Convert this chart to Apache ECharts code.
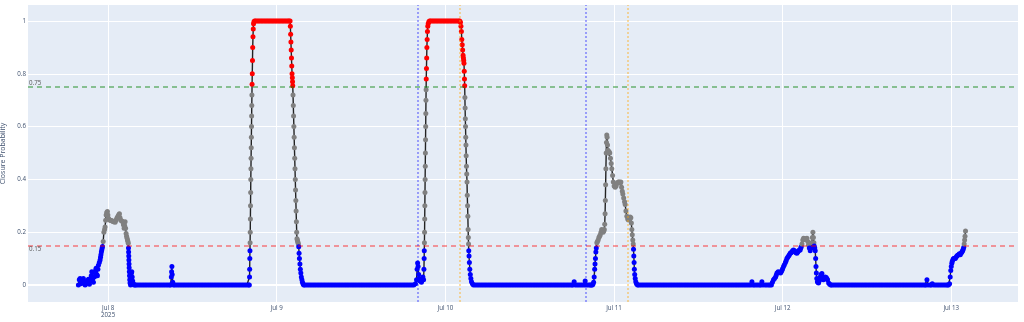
<!DOCTYPE html>
<html>
<head>
<meta charset="utf-8">
<script src="https://cdn.jsdelivr.net/npm/echarts@6/dist/echarts.min.js"></script>
<style>
  html, body { margin: 0; padding: 0; background: #ffffff; }
  #chart { width: 1024px; height: 322px; }
</style>
</head>
<body>
<div id="chart"></div>
<script>
// x values are hours since 2025-07-07 00:00
const dayTicks = [24, 48, 72, 96, 120, 144];
const dayLabels = ['Jul 8\n2025', 'Jul 9', 'Jul 10', 'Jul 11', 'Jul 12', 'Jul 13'];
const probTicks = [0, 0.2, 0.4, 0.6, 0.8, 1];
const closeThreshold = 0.75;
const openThreshold = 0.15;
const blueMarkers = [68, 92];    // Jul 9 20:00, Jul 10 20:00
const orangeMarkers = [74, 98];  // Jul 10 02:00, Jul 11 02:00

const bumpJul7 = [[19.77,0],[19.9,0.02],[20.01,0.025],[20.13,0.005],[20.26,0.01],[20.37,0.02],[20.48,0.025],[20.6,0.01],[20.73,0],[20.85,0.005],[21.0,0.015],[21.1,0.01],[21.2,0.022],[21.34,0.003],[21.5,0.02],[21.6,0.035],[21.68,0.05],[21.8,0.025],[21.91,0.01],[22.05,0.03],[22.15,0.045],[22.22,0.055],[22.29,0.063],[22.4,0.04],[22.48,0.035],[22.55,0.06],[22.62,0.075],[22.75,0.085],[22.86,0.095],[22.92,0.105],[22.98,0.115],[23.04,0.125],[23.1,0.133],[23.15,0.14],[23.2,0.146],[23.3,0.165],[23.4,0.2],[23.5,0.21],[23.57,0.22],[23.65,0.245],[23.72,0.265],[23.8,0.275],[23.9,0.278],[23.97,0.265],[24.04,0.253],[24.16,0.248],[24.28,0.245],[24.4,0.244],[24.5,0.243],[24.62,0.242],[24.75,0.24],[24.88,0.24],[25.0,0.238],[25.12,0.245],[25.24,0.253],[25.35,0.258],[25.45,0.262],[25.53,0.266],[25.61,0.27],[25.7,0.255],[25.81,0.245],[25.95,0.242],[26.09,0.24],[26.18,0.228],[26.28,0.215],[26.35,0.225],[26.42,0.24],[26.49,0.215],[26.56,0.195],[26.63,0.185],[26.7,0.177],[26.76,0.17],[26.82,0.165],[26.87,0.158],[26.9,0.14],[26.92,0.125],[26.94,0.11],[26.96,0.095],[26.98,0.08],[27.0,0.065],[27.02,0.05],[27.05,0.035],[27.08,0.02],[27.12,0.008],[27.2,0],[27.28,0.02],[27.33,0.045],[27.37,0.05],[27.43,0.03],[27.5,0.015],[27.6,0.005],[27.7,0],[27.85,0]];

const quietJul8 = [[28,0],[28.25,0],[28.5,0],[28.75,0],[29,0],[29.25,0],[29.5,0],[29.75,0],[30,0],[30.25,0],[30.5,0],[30.75,0],[31,0],[31.25,0],[31.5,0],[31.75,0],[32,0],[32.25,0],[32.5,0],[32.75,0],[32.9,0],[33.0,0.03],[33.04,0.05],[33.08,0.07],[33.12,0.04],[33.2,0.01],[33.3,0],[33.5,0],[33.75,0],[34,0],[34.25,0],[34.5,0],[34.75,0],[35,0],[35.25,0],[35.5,0],[35.75,0],[36,0],[36.25,0],[36.5,0],[36.75,0],[37,0],[37.25,0],[37.5,0],[37.75,0],[38,0],[38.25,0],[38.5,0],[38.75,0],[39,0],[39.25,0],[39.5,0],[39.75,0],[40,0],[40.25,0],[40.5,0],[40.75,0],[41,0],[41.25,0],[41.5,0],[41.75,0],[42,0],[42.25,0],[42.5,0],[42.75,0],[43,0],[43.25,0],[43.5,0],[43.75,0],[44,0]];

const peakJul8Night = [[44.1,0],[44.13,0.03],[44.15,0.06],[44.17,0.1],[44.19,0.13],[44.21,0.16],[44.23,0.2],[44.25,0.25],[44.27,0.3],[44.29,0.35],[44.31,0.4],[44.33,0.44],[44.35,0.48],[44.37,0.52],[44.39,0.56],[44.41,0.6],[44.43,0.64],[44.45,0.68],[44.47,0.72],[44.49,0.76],[44.52,0.8],[44.55,0.85],[44.58,0.9],[44.62,0.94],[44.66,0.97],[44.7,0.99],[44.76,0.997],[44.85,1],[45.0,1],[45.2,1],[45.4,1],[45.6,1],[45.8,1],[46.0,1],[46.2,1],[46.4,1],[46.6,1],[46.8,1],[47.0,1],[47.2,1],[47.4,1],[47.6,1],[47.8,1],[48.0,1],[48.2,1],[48.4,1],[48.6,1],[48.8,1],[49.0,1],[49.2,1],[49.4,1],[49.6,1],[49.75,1],[49.9,1],[49.94,0.98],[49.98,0.95],[50.02,0.92],[50.06,0.89],[50.1,0.86],[50.14,0.83],[50.18,0.8],[50.22,0.785],[50.25,0.77],[50.28,0.755],[50.32,0.72],[50.36,0.68],[50.4,0.64],[50.44,0.6],[50.48,0.56],[50.52,0.52],[50.56,0.48],[50.6,0.44],[50.64,0.4],[50.68,0.36],[50.72,0.32],[50.76,0.28],[50.8,0.24],[50.84,0.2],[50.88,0.175],[50.93,0.17],[50.98,0.165],[51.03,0.16],[51.08,0.155],[51.13,0.145],[51.18,0.12],[51.23,0.1],[51.3,0.08],[51.36,0.06],[51.43,0.045],[51.5,0.03],[51.58,0.02],[51.66,0.01],[51.75,0.004],[51.85,0]];

const quietJul9 = [[52,0],[52.25,0],[52.5,0],[52.75,0],[53,0],[53.25,0],[53.5,0],[53.75,0],[54,0],[54.25,0],[54.5,0],[54.75,0],[55,0],[55.25,0],[55.5,0],[55.75,0],[56,0],[56.25,0],[56.5,0],[56.75,0],[57,0],[57.25,0],[57.5,0],[57.75,0],[58,0],[58.25,0],[58.5,0],[58.75,0],[59,0],[59.25,0],[59.5,0],[59.75,0],[60,0],[60.25,0],[60.5,0],[60.75,0],[61,0],[61.25,0],[61.5,0],[61.75,0],[62,0],[62.25,0],[62.5,0],[62.75,0],[63,0],[63.25,0],[63.5,0],[63.75,0],[64,0],[64.25,0],[64.5,0],[64.75,0],[65,0],[65.25,0],[65.5,0],[65.75,0],[66,0],[66.25,0],[66.5,0],[66.75,0],[67,0],[67.25,0],[67.5,0]];

const peakJul9Night = [[67.75,0.005],[67.9,0.02],[67.98,0.06],[68.05,0.083],[68.12,0.07],[68.2,0.04],[68.3,0.025],[68.4,0.015],[68.5,0.02],[68.6,0.01],[68.7,0.02],[68.8,0.03],[68.9,0.02],[68.95,0.06],[68.98,0.1],[69.0,0.13],[69.02,0.16],[69.04,0.2],[69.06,0.25],[69.08,0.3],[69.1,0.35],[69.12,0.4],[69.14,0.45],[69.16,0.5],[69.18,0.55],[69.2,0.6],[69.22,0.65],[69.24,0.7],[69.26,0.74],[69.28,0.78],[69.31,0.82],[69.34,0.86],[69.37,0.9],[69.41,0.93],[69.45,0.96],[69.5,0.98],[69.56,0.99],[69.65,0.997],[69.75,1],[69.9,1],[70.1,1],[70.3,1],[70.5,1],[70.7,1],[70.9,1],[71.1,1],[71.3,1],[71.5,1],[71.7,1],[71.9,1],[72.1,1],[72.3,1],[72.5,1],[72.7,1],[72.9,1],[73.1,1],[73.3,1],[73.5,1],[73.7,1],[73.9,1],[74.05,1],[74.15,0.995],[74.22,0.98],[74.28,0.96],[74.34,0.93],[74.4,0.91],[74.46,0.89],[74.52,0.87],[74.57,0.86],[74.61,0.85],[74.65,0.84],[74.69,0.81],[74.72,0.78],[74.75,0.755],[74.78,0.71],[74.81,0.67],[74.84,0.63],[74.87,0.6],[74.9,0.56],[74.93,0.53],[74.96,0.49],[75.0,0.45],[75.04,0.42],[75.08,0.39],[75.12,0.34],[75.16,0.3],[75.2,0.26],[75.24,0.21],[75.27,0.18],[75.3,0.155],[75.33,0.13],[75.37,0.11],[75.42,0.085],[75.48,0.06],[75.55,0.04],[75.63,0.025],[75.72,0.012],[75.85,0.005],[76.0,0]];

const quietJul10 = [[76.25,0],[76.5,0],[76.75,0],[77,0],[77.25,0],[77.5,0],[77.75,0],[78,0],[78.25,0],[78.5,0],[78.75,0],[79,0],[79.25,0],[79.5,0],[79.75,0],[80,0],[80.25,0],[80.5,0],[80.75,0],[81,0],[81.25,0],[81.5,0],[81.75,0],[82,0],[82.25,0],[82.5,0],[82.75,0],[83,0],[83.25,0],[83.5,0],[83.75,0],[84,0],[84.25,0],[84.5,0],[84.75,0],[85,0],[85.25,0],[85.5,0],[85.75,0],[86,0],[86.25,0],[86.5,0],[86.75,0],[87,0],[87.25,0],[87.5,0],[87.75,0],[88,0],[88.25,0],[88.5,0],[88.75,0],[89,0],[89.25,0],[89.5,0],[89.75,0],[90,0],[90.15,0],[90.33,0.012],[90.5,0],[90.75,0],[91,0],[91.25,0],[91.5,0],[91.75,0],[91.9,0.015],[92,0],[92.25,0],[92.5,0]];

const peakJul10Night = [[92.65,0],[92.8,0],[92.9,0],[93.0,0.003],[93.1,0.01],[93.18,0.03],[93.25,0.06],[93.3,0.08],[93.36,0.1],[93.42,0.125],[93.48,0.14],[93.56,0.16],[93.65,0.165],[93.75,0.17],[93.85,0.18],[93.95,0.185],[94.05,0.19],[94.15,0.2],[94.25,0.21],[94.35,0.205],[94.45,0.2],[94.55,0.205],[94.62,0.21],[94.68,0.23],[94.73,0.27],[94.77,0.32],[94.81,0.38],[94.85,0.44],[94.89,0.5],[94.93,0.54],[94.97,0.568],[95.02,0.56],[95.08,0.53],[95.14,0.51],[95.2,0.5],[95.3,0.505],[95.4,0.5],[95.5,0.48],[95.6,0.46],[95.69,0.44],[95.8,0.415],[95.9,0.39],[96.02,0.375],[96.17,0.37],[96.3,0.375],[96.45,0.385],[96.6,0.39],[96.75,0.39],[96.9,0.385],[96.98,0.39],[97.08,0.37],[97.18,0.355],[97.26,0.345],[97.38,0.33],[97.5,0.315],[97.59,0.305],[97.7,0.28],[97.83,0.26],[97.95,0.25],[98.06,0.246],[98.18,0.25],[98.3,0.258],[98.4,0.255],[98.47,0.235],[98.54,0.21],[98.6,0.19],[98.67,0.17],[98.74,0.155],[98.78,0.135],[98.82,0.11],[98.86,0.085],[98.9,0.06],[98.95,0.04],[99.02,0.025],[99.1,0.012],[99.2,0.005],[99.35,0]];

const quietJul11 = [[99.5,0],[99.75,0],[100,0],[100.25,0],[100.5,0],[100.75,0],[101,0],[101.25,0],[101.5,0],[101.75,0],[102,0],[102.25,0],[102.5,0],[102.75,0],[103,0],[103.25,0],[103.5,0],[103.75,0],[104,0],[104.25,0],[104.5,0],[104.75,0],[105,0],[105.25,0],[105.5,0],[105.75,0],[106,0],[106.25,0],[106.5,0],[106.75,0],[107,0],[107.25,0],[107.5,0],[107.75,0],[108,0],[108.25,0],[108.5,0],[108.75,0],[109,0],[109.25,0],[109.5,0],[109.75,0],[110,0],[110.25,0],[110.5,0],[110.75,0],[111,0],[111.25,0],[111.5,0],[111.75,0],[112,0],[112.25,0],[112.5,0],[112.75,0],[113,0],[113.25,0],[113.5,0],[113.75,0],[114,0],[114.25,0],[114.5,0],[114.75,0],[115,0],[115.25,0],[115.5,0],[115.63,0.012],[115.8,0],[116,0],[116.25,0],[116.5,0],[116.75,0],[116.9,0],[117.05,0.012],[117.2,0],[117.5,0],[117.75,0],[118,0],[118.2,0]];

const bumpJul12 = [[118.4,0],[118.55,0.01],[118.7,0.02],[118.85,0.025],[119.0,0.03],[119.1,0.038],[119.2,0.045],[119.37,0.05],[119.55,0.047],[119.7,0.045],[119.8,0.05],[119.9,0.055],[120.0,0.062],[120.13,0.07],[120.25,0.077],[120.4,0.085],[120.5,0.092],[120.61,0.1],[120.73,0.105],[120.85,0.11],[120.97,0.115],[121.08,0.12],[121.2,0.122],[121.3,0.125],[121.42,0.13],[121.55,0.133],[121.68,0.13],[121.8,0.125],[121.92,0.122],[122.03,0.12],[122.15,0.125],[122.25,0.13],[122.38,0.132],[122.5,0.133],[122.58,0.14],[122.65,0.145],[122.75,0.155],[122.87,0.17],[122.98,0.177],[123.1,0.175],[123.22,0.172],[123.34,0.175],[123.46,0.177],[123.58,0.165],[123.69,0.152],[123.8,0.14],[123.93,0.13],[124.05,0.14],[124.15,0.16],[124.23,0.18],[124.31,0.2],[124.38,0.18],[124.45,0.16],[124.5,0.148],[124.57,0.14],[124.64,0.13],[124.7,0.1],[124.75,0.07],[124.8,0.045],[124.86,0.025],[124.95,0.012],[125.03,0.01],[125.11,0.008],[125.18,0.014],[125.25,0.02],[125.35,0.03],[125.47,0.04],[125.59,0.044],[125.7,0.03],[125.8,0.02],[125.93,0.025],[126.06,0.03],[126.2,0.028],[126.3,0.024],[126.39,0.02],[126.55,0.008],[126.7,0.003],[126.85,0],[127.0,0]];

const quietJul12 = [[127.25,0],[127.5,0],[127.75,0],[128,0],[128.25,0],[128.5,0],[128.75,0],[129,0],[129.25,0],[129.5,0],[129.75,0],[130,0],[130.25,0],[130.5,0],[130.75,0],[131,0],[131.25,0],[131.5,0],[131.75,0],[132,0],[132.25,0],[132.5,0],[132.75,0],[133,0],[133.25,0],[133.5,0],[133.75,0],[134,0],[134.25,0],[134.5,0],[134.75,0],[135,0],[135.25,0],[135.5,0],[135.75,0],[136,0],[136.25,0],[136.5,0],[136.75,0],[137,0],[137.25,0],[137.5,0],[137.75,0],[138,0],[138.25,0],[138.5,0],[138.75,0],[139,0],[139.25,0],[139.5,0],[139.75,0],[140,0],[140.25,0],[140.4,0],[140.54,0.02],[140.7,0],[141,0],[141.15,0],[141.3,0.005],[141.5,0],[141.75,0],[142,0],[142.25,0],[142.5,0],[142.75,0],[143,0],[143.25,0],[143.45,0]];

const riseJul13 = [[143.6,0],[143.76,0.005],[143.85,0.03],[143.93,0.055],[144.0,0.07],[144.08,0.082],[144.15,0.09],[144.25,0.097],[144.33,0.1],[144.45,0.1],[144.57,0.1],[144.68,0.105],[144.8,0.11],[144.92,0.113],[145.04,0.115],[145.16,0.118],[145.28,0.115],[145.4,0.12],[145.52,0.125],[145.62,0.13],[145.7,0.135],[145.78,0.143],[145.84,0.155],[145.9,0.17],[145.96,0.185],[146.03,0.205]];

const readings = [].concat(bumpJul7, quietJul8, peakJul8Night, quietJul9, peakJul9Night,
  quietJul10, peakJul10Night, quietJul11, bumpJul12, quietJul12, riseJul13);

const textColor = '#3d4f6d';
const fontFamily = '"Open Sans", "Liberation Sans", sans-serif';

function pointColor(v) {
  if (v > closeThreshold) return '#ff0000';
  if (v >= openThreshold) return '#808080';
  return '#0000ff';
}

const chart = echarts.init(document.getElementById('chart'), null, { renderer: 'canvas' });

const option = {
  animation: false,
  backgroundColor: '#ffffff',
  textStyle: { fontFamily: fontFamily },
  grid: { left: 28, right: 6, top: 5, bottom: 20, show: true, backgroundColor: '#E5ECF6',
          borderWidth: 0, containLabel: false, outerBoundsMode: 'none' },
  xAxis: {
    type: 'value', min: 12.6, max: 153.5,
    axisLine: { show: false }, axisTick: { show: false }, splitLine: { show: false },
    axisLabel: {
      customValues: dayTicks,
      formatter: function (v) { const i = dayTicks.indexOf(v); return i >= 0 ? dayLabels[i] : ''; },
      fontSize: 6.2, lineHeight: 7.5, color: textColor, margin: 2, fontFamily: fontFamily
    }
  },
  yAxis: {
    type: 'value', min: -0.0644, max: 1.0606,
    axisLine: { show: false }, axisTick: { show: false }, splitLine: { show: false },
    axisLabel: {
      customValues: probTicks,
      formatter: function (v) { return String(v); },
      fontSize: 6.2, color: textColor, margin: 2, fontFamily: fontFamily
    },
    name: 'Closure Probability', nameLocation: 'middle', nameGap: 18,
    nameTextStyle: { fontSize: 7, color: textColor, fontFamily: fontFamily }
  },
  series: [
    {
      name: 'grid', type: 'line', data: [], silent: true, z: 1,
      markLine: {
        z: 1, silent: true, symbol: ['none', 'none'], animation: false,
        label: { show: false },
        lineStyle: { color: '#ffffff', width: 1, type: 'solid' },
        data: dayTicks.map(function (d) { return { xAxis: d }; })
          .concat(probTicks.map(function (p) {
            return p === 0 ? { yAxis: p, lineStyle: { color: '#ffffff', width: 2, type: 'solid' } } : { yAxis: p };
          }))
      }
    },
    {
      name: 'trace', type: 'line', data: readings, showSymbol: false, z: 3,
      lineStyle: { color: '#222222', width: 1.4 }
    },
    {
      name: 'points', type: 'scatter', data: readings, symbolSize: 5, z: 4,
      itemStyle: { color: function (p) { return pointColor(p.value[1]); }, opacity: 1 }
    },
    {
      name: 'refs', type: 'line', data: [], silent: true, z: 6,
      markLine: {
        z: 6, silent: true, symbol: ['none', 'none'], animation: false,
        data: [
          { yAxis: closeThreshold,
            lineStyle: { color: 'rgba(0,128,0,0.55)', width: 1.6, type: [5, 4] },
            label: { show: true, formatter: '0.75', position: 'insideStartTop', distance: [1, 1],
                     fontSize: 6.2, color: '#555', fontFamily: fontFamily } },
          { yAxis: openThreshold,
            lineStyle: { color: 'rgba(255,0,0,0.5)', width: 1.6, type: [5, 4] },
            label: { show: true, formatter: '0.15', position: 'insideStartBottom', distance: [1, 1],
                     fontSize: 6.2, color: '#555', fontFamily: fontFamily } }
        ].concat(blueMarkers.map(function (x) {
          return { xAxis: x, label: { show: false },
                   lineStyle: { color: 'rgba(0,0,255,0.45)', width: 1.5, type: [2, 2] } };
        })).concat(orangeMarkers.map(function (x) {
          return { xAxis: x, label: { show: false },
                   lineStyle: { color: 'rgba(255,165,0,0.5)', width: 1.5, type: [2, 2] } };
        }))
      }
    }
  ]
};

chart.setOption(option);
</script>
</body>
</html>
